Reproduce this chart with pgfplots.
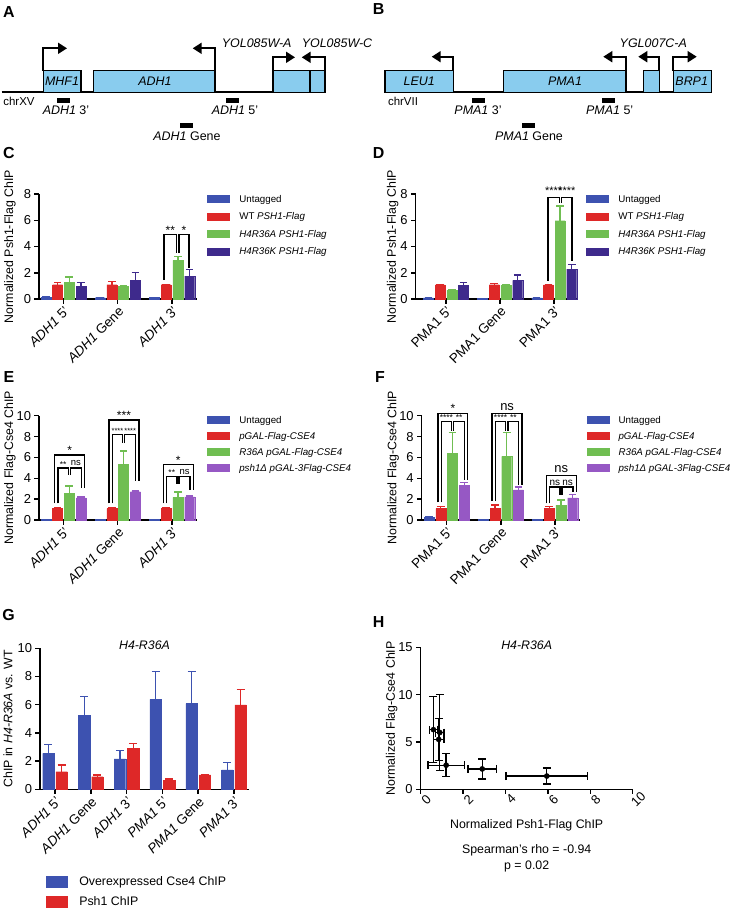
\documentclass[border=0pt]{standalone}
\usepackage{fontspec}
\setmainfont{Liberation Sans}
\setsansfont{Liberation Sans}
\usepackage{pgfplots}
\pgfplotsset{compat=1.18}
\usepackage{pgfplotstable}
\usetikzlibrary{arrows.meta}

\definecolor{cBlue}{RGB}{61,82,176}
\definecolor{cRed}{RGB}{222,40,40}
\definecolor{cGreen}{RGB}{112,190,82}
\definecolor{cDPurp}{RGB}{62,42,140}
\definecolor{cLPurp}{RGB}{150,88,196}
\definecolor{geneblue}{RGB}{137,204,238}

% Panel C: ADH1, Psh1-Flag ChIP
\pgfplotstableread{
x u uE w wE a aE k kE
0 0.15 0.02 1.09 0.18 1.27 0.40 0.96 0.31
1 0.10 0.02 1.09 0.23 0.96 0.08 1.42 0.61
2 0.12 0.02 1.09 0.04 2.94 0.30 1.75 0.50
}\tabC
% Panel D: PMA1, Psh1-Flag ChIP
\pgfplotstableread{
x u uE w wE a aE k kE
0 0.08 0.01 1.07 0.03 0.68 0.03 1.04 0.23
1 0.05 0.01 1.09 0.11 1.04 0.02 1.42 0.40
2 0.08 0.01 1.07 0.03 5.97 1.12 2.28 0.35
}\tabD
% Panel E: ADH1, Flag-Cse4 ChIP
\pgfplotstableread{
x u uE p pE r rE d dE
0 0.05 0.01 1.10 0.08 2.54 0.71 2.13 0.07
1 0.05 0.01 1.10 0.08 5.33 1.30 2.72 0.06
2 0.05 0.01 1.10 0.06 2.16 0.52 2.22 0.08
}\tabE
% Panel F: PMA1, Flag-Cse4 ChIP
\pgfplotstableread{
x u uE p pE r rE d dE
0 0.25 0.03 1.10 0.22 6.40 2.00 3.33 0.27
1 0.05 0.01 1.10 0.35 6.10 2.30 2.90 0.27
2 0.05 0.01 1.10 0.17 1.43 0.50 2.13 0.33
}\tabF
% Panel G
\pgfplotstableread{
x c cE p pE
0 2.55 0.65 1.25 0.48
1 5.27 1.30 0.90 0.12
2 2.15 0.59 2.90 0.36
3 6.38 2.00 0.66 0.07
4 6.08 2.30 1.02 0.04
5 1.37 0.52 5.98 1.11
}\tabG
% Panel H
\pgfplotstableread{
x xE y yE
1.20 0.85 2.55 1.20
0.85 0.25 5.27 2.20
2.90 0.67 2.15 1.05
0.60 0.20 6.30 3.50
0.90 0.20 6.00 4.00
5.95 1.92 1.40 0.85
}\tabH

\pgfplotsset{
  gp/.style={
    scale only axis, anchor=south west,
    axis x line*=bottom, axis y line*=left,
    axis line style={-, line width=1.5pt, black},
    every tick/.append style={black, line width=1.5pt},
    tick align=outside, major tick length=4.5bp,
    ymin=0, clip=false,
    tick label style={font=\fontsize{13}{15}\selectfont},
    /pgf/number format/assume math mode=true,
    label style={font=\fontsize{12.4}{14}\selectfont},
    xticklabel style={rotate=45, anchor=north east, inner sep=1.5bp, font=\fontsize{13.5}{15}\selectfont},
    legend cell align=left,
    legend style={draw=none, fill=none, inner sep=0pt, row sep=0pt, column sep=7bp,
      font=\fontsize{9.8}{11}\selectfont,
      nodes={inner xsep=2bp, inner ysep=4bp, text height=7.5bp, text depth=2bp}},
    legend image code/.code={\fill[##1, draw=none] (0bp,-4bp) rectangle (23bp,4bp);},
  },
  bar4/.style={ybar, bar width=10bp, bar shift=0pt, color=#1, fill=#1,
    line width=0.2pt, forget plot,
    error bars/.cd, y dir=plus, y explicit,
    error bar style={line width=1.3pt, color=#1},
    error mark options={rotate=90, mark size=3.8bp, line width=1.3pt, color=#1}},
  bar2/.style={ybar, bar width=11.5bp, bar shift=0pt, color=#1, fill=#1,
    line width=0.2pt, forget plot,
    error bars/.cd, y dir=plus, y explicit,
    error bar style={line width=1.3pt, color=#1},
    error mark options={rotate=90, mark size=4bp, line width=1.3pt, color=#1}},
  brk/.style={black, line width=1.4pt, forget plot, mark=none, sharp plot},
}
\newcommand\brk[5]{\addplot[brk] coordinates {(#1,#2) (#1,#5) (#3,#5) (#3,#4)};}
\newcommand\sig[5]{\node[anchor=base, inner sep=0pt, yshift=#4bp, font=\fontsize{#3}{#3}\selectfont] at (axis cs:#1,#2) {#5};}

\begin{document}
\begin{tikzpicture}
\useasboundingbox (0bp,-910bp) rectangle (737bp,0bp);

% ---------------- Panels A and B (schematics) ----------------
\begin{axis}[scale only axis, anchor=south west, at={(0bp,-910bp)}, width=737bp, height=910bp,
  xmin=0, xmax=737, ymin=-910, ymax=0, hide axis, clip=false]
  \tikzset{gene/.style={fill=geneblue, draw=black, line width=1.3pt},
    tss/.style={line width=1.8pt, -{Triangle[length=9bp,width=11bp]}},
    gl/.style={font=\itshape\fontsize{12.5}{14}\selectfont, inner sep=0pt},
    pl/.style={font=\fontsize{12.5}{14}\selectfont, inner sep=0pt}}
  % A
  \draw[line width=2.2pt] (1.7,-92.3) -- (325,-92.3);
  \draw[gene] (43.3,-70.7) rectangle (81,-92.3);
  \draw[gene] (93.3,-70.7) rectangle (215,-92.3);
  \draw[gene] (273,-70.7) rectangle (310,-92.3);
  \draw[gene] (310,-70.7) rectangle (325,-92.3);
  \draw[tss] (43.3,-70.7) -- (43.3,-48.3) -- (67,-48.3);
  \draw[tss] (215,-70.7) -- (215,-48.3) -- (192.7,-48.3);
  \draw[tss] (273,-70.7) -- (273,-57.3) -- (295,-57.3);
  \draw[tss] (325,-70.7) -- (325,-57.3) -- (301.7,-57.3);
  \node[gl] at (62,-81) {MHF1};
  \node[gl] at (155,-81) {ADH1};
  \node[gl] at (256.7,-43) {YOL085W-A};
  \node[gl] at (337,-43) {YOL085W-C};
  \node[pl, font=\fontsize{11.5}{13}\selectfont] at (19,-101) {chrXV};
  \fill (56.7,-97.7) rectangle (70,-102.7);
  \fill (226,-97.7) rectangle (239.3,-102.7);
  \fill (180,-122.7) rectangle (193.3,-127.7);
  \node[pl] at (66,-110) {\textit{ADH1} 3'};
  \node[pl] at (235,-110) {\textit{ADH1} 5'};
  \node[pl] at (187,-136) {\textit{ADH1} Gene};
  % B
  \draw[line width=2.2pt] (385,-92.3) -- (711.7,-92.3);
  \draw[gene] (385,-70.7) rectangle (453.3,-92.3);
  \draw[gene] (503.3,-70.7) rectangle (626,-92.3);
  \draw[gene] (643.3,-70.7) rectangle (659.3,-92.3);
  \draw[gene] (673.3,-70.7) rectangle (711.7,-92.3);
  \draw[tss] (453.3,-70.7) -- (453.3,-56.7) -- (431.7,-56.7);
  \draw[tss] (626,-70.7) -- (626,-56.7) -- (603.3,-56.7);
  \draw[tss] (659.3,-70.7) -- (659.3,-56.7) -- (638.3,-56.7);
  \draw[tss] (673.3,-70.7) -- (673.3,-56.7) -- (696.7,-56.7);
  \node[gl] at (419.3,-81) {LEU1};
  \node[gl] at (565,-81) {PMA1};
  \node[gl] at (691.7,-81) {BRP1};
  \node[gl] at (653.3,-43) {YGL007C-A};
  \node[pl, font=\fontsize{11.5}{13}\selectfont] at (403,-101) {chrVII};
  \fill (471.7,-97.7) rectangle (485,-102.7);
  \fill (601.7,-97.7) rectangle (615,-102.7);
  \fill (521.7,-122.7) rectangle (535,-127.7);
  \node[pl] at (478,-110) {\textit{PMA1} 3'};
  \node[pl] at (609.7,-110) {\textit{PMA1} 5'};
  \node[pl] at (529,-136) {\textit{PMA1} Gene};
  % panel letters
  \tikzset{pletter/.style={font=\bfseries\fontsize{16}{16}\selectfont, inner sep=0pt}}
  \node[pletter] at (9,-12.5) {A};
  \node[pletter] at (378.5,-9.5) {B};
  \node[pletter] at (9,-153) {C};
  \node[pletter] at (378.5,-153) {D};
  \node[pletter] at (9,-377) {E};
  \node[pletter] at (380,-377) {F};
  \node[pletter] at (8.5,-615) {G};
  \node[pletter] at (378.5,-621.7) {H};
\end{axis}

% ---------------- Panel C ----------------
\begin{axis}[gp, at={(39bp,-299bp)}, width=158bp, height=105bp,
  xmin=-0.45, xmax=2.46, ymax=8, ytick={0,2,4,6,8}, xtick={0,1,2},
  xticklabels={{\textit{ADH1} 5'},{\textit{ADH1} Gene},{\textit{ADH1} 3'}},
  ylabel={Normalized Psh1-Flag ChIP},
  ylabel style={at={(axis description cs:-0.184,0.5)}, anchor=center},
  legend style={at={(1.064,1.033)}, anchor=north west}]
  \addplot[bar4=cBlue]  table[x expr=\thisrow{x}-0.324, y=u, y error=uE] {\tabC};
  \addplot[bar4=cRed]   table[x expr=\thisrow{x}-0.108, y=w, y error=wE] {\tabC};
  \addplot[bar4=cGreen] table[x expr=\thisrow{x}+0.108, y=a, y error=aE] {\tabC};
  \addplot[bar4=cDPurp] table[x expr=\thisrow{x}+0.324, y=k, y error=kE] {\tabC};
  \addlegendimage{fill=cBlue}\addlegendentry{Untagged}
  \addlegendimage{fill=cRed}\addlegendentry{WT \textit{PSH1-Flag}}
  \addlegendimage{fill=cGreen}\addlegendentry{\textit{H4R36A PSH1-Flag}}
  \addlegendimage{fill=cDPurp}\addlegendentry{\textit{H4R36K PSH1-Flag}}
  \brk{1.852}{1.45}{2.087}{3.5}{4.9}
  \brk{2.13}{3.5}{2.315}{2.35}{4.9}
  \sig{1.97}{4.9}{12}{0.5}{**}
  \sig{2.22}{4.9}{12}{0.5}{*}
\end{axis}

% ---------------- Panel D ----------------
\begin{axis}[gp, at={(415.7bp,-299bp)}, width=162.3bp, height=105bp,
  xmin=-0.56, xmax=2.44, ymax=8, ytick={0,2,4,6,8}, xtick={0,1,2},
  xticklabels={{PMA1 5'},{PMA1 Gene},{PMA1 3'}},
  ylabel={Normalized Psh1-Flag ChIP},
  ylabel style={at={(axis description cs:-0.142,0.5)}, anchor=center},
  legend style={at={(1.05,1.033)}, anchor=north west}]
  \addplot[bar4=cBlue]  table[x expr=\thisrow{x}-0.324, y=u, y error=uE] {\tabD};
  \addplot[bar4=cRed]   table[x expr=\thisrow{x}-0.108, y=w, y error=wE] {\tabD};
  \addplot[bar4=cGreen] table[x expr=\thisrow{x}+0.108, y=a, y error=aE] {\tabD};
  \addplot[bar4=cDPurp] table[x expr=\thisrow{x}+0.324, y=k, y error=kE] {\tabD};
  \addlegendimage{fill=cBlue}\addlegendentry{Untagged}
  \addlegendimage{fill=cRed}\addlegendentry{WT \textit{PSH1-Flag}}
  \addlegendimage{fill=cGreen}\addlegendentry{\textit{H4R36A PSH1-Flag}}
  \addlegendimage{fill=cDPurp}\addlegendentry{\textit{H4R36K PSH1-Flag}}
  \brk{1.883}{1.4}{2.10}{7.3}{7.75}
  \brk{2.14}{7.3}{2.33}{2.86}{7.75}
  \sig{1.99}{7.75}{11}{2.5}{****}
  \sig{2.235}{7.75}{11}{2.5}{****}
\end{axis}

% ---------------- Panel E ----------------
\begin{axis}[gp, at={(39bp,-520bp)}, width=158bp, height=104.3bp,
  xmin=-0.45, xmax=2.46, ymax=10, ytick={0,2,4,6,8,10}, xtick={0,1,2},
  xticklabels={{\textit{ADH1} 5'},{\textit{ADH1} Gene},{\textit{ADH1} 3'}},
  ylabel={Normalized Flag-Cse4 ChIP},
  ylabel style={at={(axis description cs:-0.184,0.5)}, anchor=center},
  legend style={at={(1.064,1.033)}, anchor=north west,
    nodes={inner ysep=3.25bp}}]
  \addplot[bar4=cBlue]  table[x expr=\thisrow{x}-0.324, y=u, y error=uE] {\tabE};
  \addplot[bar4=cRed]   table[x expr=\thisrow{x}-0.108, y=p, y error=pE] {\tabE};
  \addplot[bar4=cGreen] table[x expr=\thisrow{x}+0.108, y=r, y error=rE] {\tabE};
  \addplot[bar4=cLPurp] table[x expr=\thisrow{x}+0.324, y=d, y error=dE] {\tabE};
  \addlegendimage{fill=cBlue}\addlegendentry{Untagged}
  \addlegendimage{fill=cRed}\addlegendentry{\textit{pGAL-Flag-CSE4}}
  \addlegendimage{fill=cGreen}\addlegendentry{\textit{R36A pGAL-Flag-CSE4}}
  \addlegendimage{fill=cLPurp}\addlegendentry{\textit{psh1Δ pGAL-3Flag-CSE4}}
  % group 0
  \brk{-0.16}{1.6}{0.39}{3.1}{6.25}
  \brk{-0.10}{1.6}{0.09}{4.3}{4.97}
  \brk{0.13}{4.3}{0.33}{3.1}{4.97}
  \sig{0.115}{6.25}{12}{0.5}{*}
  \sig{-0.005}{4.97}{8.5}{1}{**}
  \sig{0.23}{4.97}{9.5}{2.5}{ns}
  % group 1
  \brk{0.84}{1.6}{1.39}{3.7}{9.6}
  \brk{0.90}{1.6}{1.09}{7.37}{8.17}
  \brk{1.13}{7.37}{1.33}{3.7}{8.17}
  \sig{1.115}{9.6}{12}{0.5}{***}
  \sig{0.995}{8.17}{7.5}{1}{****}
  \sig{1.23}{8.17}{7.5}{1}{****}
  % group 2
  \brk{1.84}{1.6}{2.39}{2.9}{5.3}
  \brk{1.90}{1.6}{2.09}{3.5}{4.17}
  \brk{2.13}{3.5}{2.33}{2.9}{4.17}
  \sig{2.115}{5.3}{12}{0.5}{*}
  \sig{1.995}{4.17}{8.5}{1}{**}
  \sig{2.23}{4.17}{9.5}{2.5}{ns}
\end{axis}

% ---------------- Panel F ----------------
\begin{axis}[gp, at={(421.7bp,-520bp)}, width=158.3bp, height=104.3bp,
  xmin=-0.46, xmax=2.46, ymax=10, ytick={0,2,4,6,8,10}, xtick={0,1,2},
  xticklabels={{PMA1 5'},{PMA1 Gene},{PMA1 3'}},
  ylabel={Normalized Flag-Cse4 ChIP},
  ylabel style={at={(axis description cs:-0.18,0.5)}, anchor=center},
  legend style={at={(1.04,1.033)}, anchor=north west,
    nodes={inner ysep=3.25bp}}]
  \addplot[bar4=cBlue]  table[x expr=\thisrow{x}-0.324, y=u, y error=uE] {\tabF};
  \addplot[bar4=cRed]   table[x expr=\thisrow{x}-0.108, y=p, y error=pE] {\tabF};
  \addplot[bar4=cGreen] table[x expr=\thisrow{x}+0.108, y=r, y error=rE] {\tabF};
  \addplot[bar4=cLPurp] table[x expr=\thisrow{x}+0.324, y=d, y error=dE] {\tabF};
  \addlegendimage{fill=cBlue}\addlegendentry{Untagged}
  \addlegendimage{fill=cRed}\addlegendentry{\textit{pGAL-Flag-CSE4}}
  \addlegendimage{fill=cGreen}\addlegendentry{\textit{R36A pGAL-Flag-CSE4}}
  \addlegendimage{fill=cLPurp}\addlegendentry{\textit{psh1Δ pGAL-3Flag-CSE4}}
  % group 0
  \brk{-0.16}{1.7}{0.39}{3.8}{10.22}
  \brk{-0.10}{1.7}{0.09}{8.57}{9.43}
  \brk{0.13}{8.57}{0.33}{3.8}{9.43}
  \sig{0.115}{10.22}{12}{0.5}{*}
  \sig{-0.005}{9.43}{8.5}{1}{****}
  \sig{0.23}{9.43}{8.5}{1}{**}
  % group 1
  \brk{0.84}{1.8}{1.39}{3.4}{10.22}
  \brk{0.90}{1.8}{1.09}{8.57}{9.43}
  \brk{1.13}{8.57}{1.33}{3.4}{9.43}
  \sig{1.115}{10.22}{13}{3}{ns}
  \sig{0.995}{9.43}{8.5}{1}{****}
  \sig{1.23}{9.43}{8.5}{1}{**}
  % group 2
  \brk{1.84}{1.6}{2.39}{2.7}{4.29}
  \brk{1.90}{1.6}{2.09}{2.38}{3.17}
  \brk{2.13}{2.38}{2.33}{2.7}{3.17}
  \sig{2.115}{4.29}{13}{3}{ns}
  \sig{1.995}{3.17}{10}{1.5}{ns}
  \sig{2.23}{3.17}{10}{1.5}{ns}
\end{axis}

% ---------------- Panel G ----------------
\begin{axis}[gp, at={(40bp,-789.3bp)}, width=209bp, height=141bp,
  xmin=-0.42, xmax=5.42, ymax=10, ytick={0,2,4,6,8,10}, xtick={0,1,2,3,4,5},
  xticklabels={{\textit{ADH1} 5'},{\textit{ADH1} Gene},{\textit{ADH1} 3'},{\textit{PMA1} 5'},{\textit{PMA1} Gene},{\textit{PMA1} 3'}},
  ylabel={ChIP in \textit{H4-R36A} vs. WT},
  ylabel style={at={(axis description cs:-0.153,0.5)}, anchor=center},
  title={\textit{H4-R36A}},
  title style={at={(axis description cs:0.5,1)}, anchor=south, yshift=-11bp, font=\fontsize{12.4}{14}\selectfont},
  legend style={at={(0.029,-0.583)}, anchor=north west, column sep=9bp,
    font=\fontsize{12.4}{14}\selectfont,
    nodes={inner xsep=2bp, inner ysep=4.5bp, text height=9bp, text depth=2.5bp}},
  legend image code/.code={\fill[#1, draw=none] (0bp,-6bp) rectangle (22bp,6bp);}]
  \addplot[bar2=cBlue] table[x expr=\thisrow{x}-0.186, y=c, y error=cE] {\tabG};
  \addplot[bar2=cRed]  table[x expr=\thisrow{x}+0.186, y=p, y error=pE] {\tabG};
  \addlegendimage{fill=cBlue}\addlegendentry{Overexpressed Cse4 ChIP}
  \addlegendimage{fill=cRed}\addlegendentry{Psh1 ChIP}
\end{axis}

% ---------------- Panel H ----------------
\begin{axis}[gp, at={(420.7bp,-789.3bp)}, width=212bp, height=142bp,
  xmin=0, xmax=10, ymax=15, xtick={0,2,4,6,8,10}, ytick={0,5,10,15},
  xticklabel style={rotate=0, anchor=north, inner sep=3bp, font=\fontsize{13}{15}\selectfont},
  xlabel={Normalized Psh1-Flag ChIP},
  xlabel style={at={(axis description cs:0.5,-0.251)}, anchor=center},
  ylabel={Normalized Flag-Cse4 ChIP},
  ylabel style={at={(axis description cs:-0.137,0.5)}, anchor=center},
  title={\textit{H4-R36A}},
  title style={at={(axis description cs:0.5,1)}, anchor=south, yshift=-12bp, font=\fontsize{12.4}{14}\selectfont}]
  \addplot[black, only marks, mark=*, mark size=2.6bp,
    error bars/.cd, x dir=both, x explicit, y dir=both, y explicit,
    error bar style={line width=1.3pt, black},
    error mark options={rotate=90, mark size=4bp, line width=1.3pt, black}]
    table[x=x, y=y, x error=xE, y error=yE] {\tabH};
  \node[font=\fontsize{12.4}{14}\selectfont] at (axis description cs:0.5,-0.427) {Spearman's rho = -0.94};
  \node[font=\fontsize{12.4}{14}\selectfont] at (axis description cs:0.5,-0.540) {p = 0.02};
\end{axis}
\end{tikzpicture}
\end{document}
